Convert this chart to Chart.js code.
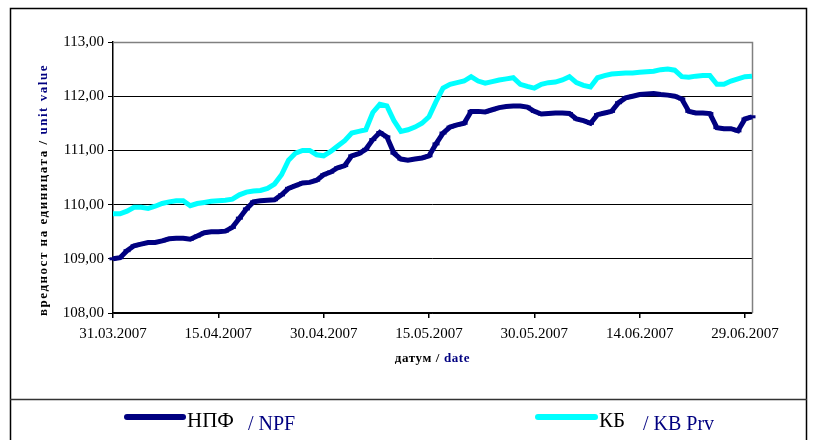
<!DOCTYPE html>
<html><head><meta charset="utf-8">
<script src="https://cdn.jsdelivr.net/npm/chart.js@4"></script>
<style>html,body{margin:0;padding:0;background:#fff}</style>
</head><body>
<canvas id="c" width="813" height="440"></canvas>
<script>
// ---- data ----
const firstDate = "31.03.2007";
const dayCount = 92; // 31.03.2007 .. 30.06.2007
const tickEvery = 15;
const yTicks = [108, 109, 110, 111, 112, 113];

const npf = [109.00,109.02,109.15,109.24,109.27,109.30,109.30,109.33,109.37,109.38,
 109.38,109.36,109.42,109.48,109.50,109.50,109.51,109.58,109.75,109.92,
 110.05,110.07,110.08,110.09,110.18,110.30,110.35,110.40,110.41,110.45,
 110.55,110.60,110.68,110.72,110.90,110.94,111.02,111.20,111.33,111.25,
 110.95,110.84,110.82,110.84,110.86,110.90,111.12,111.32,111.43,111.47,
 111.50,111.72,111.72,111.71,111.75,111.79,111.81,111.82,111.82,111.80,
 111.72,111.67,111.68,111.69,111.69,111.68,111.58,111.55,111.50,111.66,
 111.69,111.72,111.88,111.97,112.00,112.03,112.04,112.05,112.03,112.02,
 112.00,111.95,111.72,111.69,111.69,111.68,111.42,111.40,111.40,111.36,
 111.58,111.62];

const kb = [109.83,109.83,109.88,109.95,109.95,109.93,109.97,110.02,110.05,110.07,
 110.07,109.98,110.02,110.04,110.06,110.07,110.08,110.10,110.18,110.23,
 110.25,110.26,110.30,110.38,110.55,110.82,110.95,111.00,111.00,110.92,
 110.90,110.98,111.08,111.18,111.32,111.35,111.38,111.70,111.85,111.82,
 111.55,111.35,111.38,111.43,111.50,111.62,111.90,112.15,112.22,112.25,
 112.28,112.36,112.28,112.24,112.27,112.30,112.32,112.34,112.22,112.18,
 112.15,112.22,112.25,112.26,112.30,112.36,112.25,112.20,112.17,112.34,
 112.38,112.41,112.42,112.43,112.43,112.44,112.45,112.46,112.49,112.50,
 112.48,112.36,112.35,112.37,112.38,112.38,112.22,112.22,112.28,112.32,
 112.36,112.37];

const seriesNames = ["НПФ", "КБ"];
const seriesNamesEn = ["/ NPF", "/ KB Prv"];
const yTitle = ["вредност на единицата / ", "unit value"];
const xTitle = ["датум / ", "date"];

// category labels (dates)
const dates = [];
(function(){
  const p = firstDate.split('.').map(Number);
  const d0 = Date.UTC(p[2], p[1]-1, p[0]);
  for (let i = 0; i < dayCount; i++) {
    const d = new Date(d0 + i*86400000);
    const dd = String(d.getUTCDate()).padStart(2,'0');
    const mm = String(d.getUTCMonth()+1).padStart(2,'0');
    dates.push(dd + '.' + mm + '.' + d.getUTCFullYear());
  }
})();

const NAVY = '#000080', CYAN = '#00FFFF';
const SERIF = '"Liberation Serif", "DejaVu Serif", serif';

function drawMixed(ctx, parts, colors, x, y) {
  let cx = x;
  parts.forEach((t, i) => {
    ctx.fillStyle = colors[i];
    ctx.fillText(t, cx, y);
    cx += ctx.measureText(t).width;
  });
}

const decor = {
  id: 'decor',
  beforeDraw(chart) {
    const ctx = chart.ctx;
    ctx.save();
    ctx.fillStyle = '#fff';
    ctx.fillRect(0, 0, chart.width, chart.height);
    ctx.restore();
  },
  beforeDatasetsDraw(chart) {
    const ctx = chart.ctx, a = chart.chartArea;
    ctx.save();
    ctx.strokeStyle = '#808080';
    ctx.lineWidth = 1.5;
    ctx.beginPath();
    ctx.moveTo(a.left, a.top + 0.5);
    ctx.lineTo(a.right + 0.5, a.top + 0.5);
    ctx.lineTo(a.right + 0.5, a.bottom);
    ctx.stroke();
    ctx.restore();
  },
  afterDraw(chart) {
    const ctx = chart.ctx, a = chart.chartArea;
    ctx.save();
    // outer frame and legend separator
    ctx.strokeStyle = '#000';
    ctx.lineWidth = 1.5;
    ctx.beginPath();
    ctx.moveTo(10.5, 445); ctx.lineTo(10.5, 8.5); ctx.lineTo(806.5, 8.5); ctx.lineTo(806.5, 445);
    ctx.stroke();
    ctx.strokeStyle = '#333';
    ctx.beginPath();
    ctx.moveTo(10, 399.5); ctx.lineTo(807, 399.5);
    ctx.stroke();

    // y axis title (rotated)
    ctx.save();
    ctx.font = 'bold 13px ' + SERIF;
    ctx.textBaseline = 'middle';
    const full = yTitle.join('');
    const natural = ctx.measureText(full).width;
    const target = 252;
    ctx.letterSpacing = Math.max(0, (target - natural) / full.length).toFixed(2) + 'px';
    const w = ctx.measureText(full).width;
    ctx.translate(44, 190);
    ctx.rotate(-Math.PI/2);
    ctx.textAlign = 'left';
    drawMixed(ctx, yTitle, ['#000', NAVY], -w/2, 0);
    ctx.restore();

    // x axis title
    ctx.save();
    ctx.font = 'bold 13px ' + SERIF;
    ctx.textBaseline = 'middle';
    ctx.letterSpacing = '0.6px';
    const xw = ctx.measureText(xTitle.join('')).width;
    const xc = (a.left + a.right) / 2;
    drawMixed(ctx, xTitle, ['#000', NAVY], xc - xw/2, 359);
    ctx.restore();

    // legend
    const leg = [
      {x1: 127, x2: 183, tx: 187, ex: 248, color: NAVY},
      {x1: 538, x2: 595, tx: 599, ex: 643, color: CYAN}
    ];
    leg.forEach((L, i) => {
      ctx.strokeStyle = L.color;
      ctx.lineWidth = 6;
      ctx.lineCap = 'round';
      ctx.beginPath(); ctx.moveTo(L.x1, 417); ctx.lineTo(L.x2, 417); ctx.stroke();
      ctx.textBaseline = 'alphabetic';
      ctx.fillStyle = '#000';
      ctx.font = '21px ' + SERIF;
      ctx.fillText(seriesNames[i], L.tx, 427);
      ctx.fillStyle = NAVY;
      ctx.font = '20px ' + SERIF;
      ctx.fillText(seriesNamesEn[i], L.ex, 430);
    });
    ctx.restore();
  }
};

new Chart(document.getElementById('c'), {
  type: 'line',
  data: {
    labels: dates,
    datasets: [
      {
        label: seriesNames[0] + ' ' + seriesNamesEn[0],
        data: npf,
        borderColor: NAVY,
        backgroundColor: NAVY,
        borderWidth: 5,
        pointStyle: 'line',
        pointRadius: 3.5,
        pointBorderWidth: 3,
        pointBorderColor: NAVY,
        pointHoverRadius: 0,
        tension: 0,
        clip: 8,
        order: 2
      },
      {
        label: seriesNames[1] + ' ' + seriesNamesEn[1],
        data: kb,
        borderColor: CYAN,
        backgroundColor: CYAN,
        borderWidth: 5,
        pointRadius: 0,
        tension: 0,
        clip: 8,
        order: 1
      }
    ]
  },
  options: {
    responsive: false,
    animation: false,
    devicePixelRatio: 1,
    layout: { padding: { left: 0, top: 42, right: 61, bottom: 87 } },
    plugins: { legend: { display: false }, tooltip: { enabled: false } },
    scales: {
      x: {
        afterFit(s) { s.height = 40; },
        grid: {
          drawOnChartArea: false,
          drawTicks: true,
          tickLength: 5,
          color: (c) => (c.index % tickEvery === 0 ? '#000' : 'rgba(0,0,0,0)'),
          lineWidth: 1.5
        },
        border: { color: '#000', width: 1.5 },
        ticks: {
          autoSkip: false,
          maxRotation: 0,
          minRotation: 0,
          padding: 7,
          color: '#000',
          font: { family: SERIF, size: 15 },
          callback: (v, i) => (i % tickEvery === 0 ? dates[i] : '')
        }
      },
      y: {
        min: yTicks[0],
        max: yTicks[yTicks.length - 1],
        afterFit(s) { s.width = 113; },
        afterBuildTicks(s) { s.ticks = yTicks.map(v => ({ value: v })); },
        grid: {
          color: (c) => (c.tick && c.tick.value === 113 ? '#808080' : '#000'),
          lineWidth: 1,
          tickLength: 5,
          tickColor: '#000'
        },
        border: { color: '#000', width: 1.5 },
        ticks: {
          padding: 4,
          color: '#000',
          font: { family: SERIF, size: 15 },
          callback: (v) => Number(v).toFixed(2).replace('.', ',')
        }
      }
    }
  },
  plugins: [decor]
});
</script>
</body></html>
